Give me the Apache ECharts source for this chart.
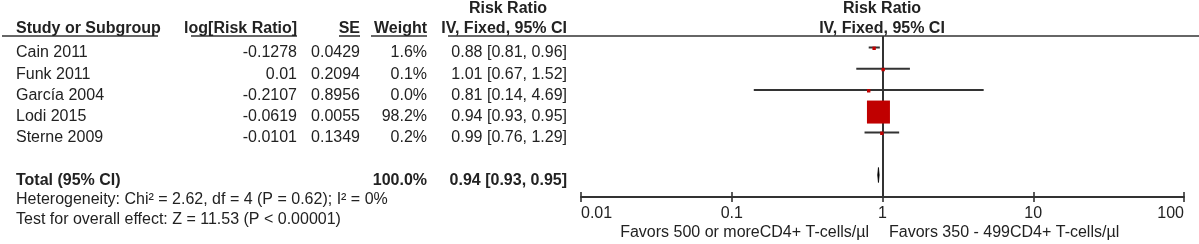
<!DOCTYPE html>
<html>
<head>
<meta charset="utf-8">
<script src="https://cdn.jsdelivr.net/npm/echarts@6/dist/echarts.min.js"></script>
<style>
  html, body { margin: 0; padding: 0; background: #fff; }
  #chart { width: 1199px; height: 244px; }
</style>
</head>
<body>
<div id="chart"></div>
<script>
// study data
const studies = ['Cain 2011', 'Funk 2011', 'García 2004', 'Lodi 2015', 'Sterne 2009'];
const logRR = [-0.1278, 0.01, -0.2107, -0.0619, -0.0101];
const se = [0.0429, 0.2094, 0.8956, 0.0055, 0.1349];
const weight = [1.6, 0.1, 0.0, 98.2, 0.2];
const rr = [0.88, 1.01, 0.81, 0.94, 0.99];
const ciLow = [0.81, 0.67, 0.14, 0.93, 0.76];
const ciHigh = [0.96, 1.52, 4.69, 0.95, 1.29];

// pooled estimate [rr, low, high, weight]
const totalRow = [0.94, 0.93, 0.95, 100.0];
const heterogeneity = 'Heterogeneity: Chi² = 2.62, df = 4 (P = 0.62); I² = 0%';
const overallEffect = 'Test for overall effect: Z = 11.53 (P < 0.00001)';

const tickLabels = ['0.01', '0.1', '1', '10', '100'];
const favorsLeft = 'Favors 500 or moreCD4+ T-cells/µl';
const favorsRight = 'Favors 350 - 499CD4+ T-cells/µl';

const FONT = 'Liberation Sans, Arial, sans-serif';
const FS = 16;
const TXT = '#222';
const LINE = '#333';
const RED = '#c00000';

// column anchors (pixels)
const COL_NAME = 16, COL_LOG = 297, COL_SE = 360, COL_W = 427, COL_CI = 567;
const TEXT_DY = 5.5;

const fmtCI = (a, b, c) => a.toFixed(2) + ' [' + b.toFixed(2) + ', ' + c.toFixed(2) + ']';

function txt(x, y, s, align, bold) {
  return {
    type: 'text',
    x: x, y: y,
    style: {
      text: s, fill: TXT, font: (bold ? 'bold ' : '') + FS + 'px ' + FONT,
      textAlign: align, textVerticalAlign: 'middle'
    }
  };
}

const studyData = studies.map((s, i) => [rr[i], i, ciLow[i], ciHigh[i], weight[i]]);

function renderStudy(params, api) {
  const i = api.value(1);
  const mid = api.coord([api.value(0), i]);
  const lo = api.coord([api.value(2), i]);
  const hi = api.coord([api.value(3), i]);
  // square area follows the weight, tiny weights still get a visible dot
  const size = Math.max(3.4, 23 * Math.sqrt(api.value(4) / 98.2));
  const ty = mid[1] + TEXT_DY;
  const idx = params.dataIndex;
  return {
    type: 'group',
    children: [
      { type: 'line', shape: { x1: lo[0], y1: mid[1], x2: hi[0], y2: mid[1] },
        style: { stroke: LINE, lineWidth: 2 } },
      { type: 'rect', shape: { x: mid[0] - size / 2, y: mid[1] - size / 2 + 0.8, width: size, height: size },
        style: { fill: RED }, z2: 5 },
      txt(COL_NAME, ty, studies[idx], 'left'),
      txt(COL_LOG, ty, String(logRR[idx]), 'right'),
      txt(COL_SE, ty, String(se[idx]), 'right'),
      txt(COL_W, ty, weight[idx].toFixed(1) + '%', 'right'),
      txt(COL_CI, ty, fmtCI(rr[idx], ciLow[idx], ciHigh[idx]), 'right')
    ]
  };
}

function renderTotal(params, api) {
  const row = api.value(1);
  const mid = api.coord([api.value(0), row]);
  const lo = api.coord([api.value(2), row]);
  const hi = api.coord([api.value(3), row]);
  const h = 7.5;
  const ty = mid[1] + TEXT_DY;
  return {
    type: 'group',
    children: [
      { type: 'polygon',
        shape: { points: [[lo[0], mid[1]], [mid[0], mid[1] - h], [hi[0], mid[1]], [mid[0], mid[1] + h]] },
        style: { fill: '#000', stroke: '#000', lineWidth: 0.8 } },
      txt(COL_NAME, ty, 'Total (95% CI)', 'left', true),
      txt(COL_W, ty, totalRow[3].toFixed(1) + '%', 'right', true),
      txt(COL_CI, ty, fmtCI(totalRow[0], totalRow[1], totalRow[2]), 'right', true)
    ]
  };
}

const chart = echarts.init(document.getElementById('chart'), null, { renderer: 'canvas' });

const headerLines = [[2, 158], [191, 297], [339, 360], [371, 427], [448, 1199]].map(seg => ({
  type: 'line', shape: { x1: seg[0], y1: 36, x2: seg[1], y2: 36 },
  style: { stroke: LINE, lineWidth: 1.6 }
}));

const option = {
  animation: false,
  backgroundColor: '#fff',
  textStyle: { fontFamily: FONT },
  grid: { left: 581, right: 15, top: 36, bottom: 47 },
  xAxis: [{
    type: 'log', logBase: 10, min: 0.01, max: 100, position: 'bottom',
    axisLine: { onZero: false, lineStyle: { color: LINE, width: 1.8 } },
    axisTick: { length: 5, lineStyle: { color: LINE, width: 1.6 } },
    splitLine: { show: false },
    minorTick: { show: false },
    axisLabel: {
      color: TXT, fontSize: FS, fontFamily: FONT, margin: 9,
      alignMinLabel: 'left', alignMaxLabel: 'right',
      formatter: v => tickLabels[Math.round(Math.log10(v)) + 2]
    }
  }, {
    type: 'log', logBase: 10, min: 0.01, max: 100, position: 'bottom', offset: 0,
    axisLine: { show: false, onZero: false },
    axisTick: { inside: true, length: 5, lineStyle: { color: LINE, width: 1.6 } },
    axisLabel: { show: false },
    splitLine: { show: false }
  }],
  yAxis: { type: 'value', inverse: true, min: -0.541, max: 7.035, show: false },
  series: [{
    type: 'custom',
    renderItem: renderStudy,
    data: studyData,
    encode: { x: 0, y: 1 },
    clip: false,
    z: 3,
    markLine: {
      silent: true, symbol: 'none', label: { show: false },
      z: 2,
      lineStyle: { color: LINE, width: 2, type: 'solid' },
      data: [{ xAxis: 1 }]
    }
  }, {
    type: 'custom',
    renderItem: renderTotal,
    data: [[totalRow[0], 6, totalRow[1], totalRow[2]]],
    encode: { x: 0, y: 1 },
    clip: false,
    z: 3
  }],
  graphic: headerLines.concat([
    txt(508, 9, 'Risk Ratio', 'center', true),
    txt(COL_NAME, 29, 'Study or Subgroup', 'left', true),
    txt(COL_LOG, 29, 'log[Risk Ratio]', 'right', true),
    txt(COL_SE, 29, 'SE', 'right', true),
    txt(COL_W, 29, 'Weight', 'right', true),
    txt(COL_CI, 29, 'IV, Fixed, 95% CI', 'right', true),
    txt(882, 9, 'Risk Ratio', 'center', true),
    txt(882, 29, 'IV, Fixed, 95% CI', 'center', true),
    txt(COL_NAME, 200, heterogeneity, 'left'),
    txt(COL_NAME, 220, overallEffect, 'left'),
    txt(869, 233, favorsLeft, 'right'),
    txt(889, 233, favorsRight, 'left')
  ])
};

chart.setOption(option);
</script>
</body>
</html>
